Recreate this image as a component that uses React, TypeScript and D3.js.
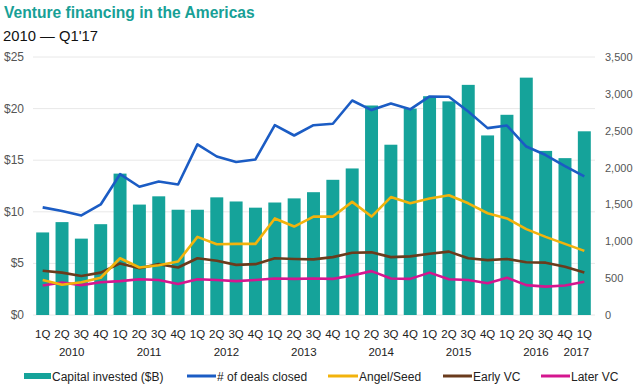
import React from 'react';
import * as d3 from 'd3';

const quarters = [
  '1Q', '2Q', '3Q', '4Q', '1Q', '2Q', '3Q', '4Q', '1Q', '2Q', '3Q', '4Q',
  '1Q', '2Q', '3Q', '4Q', '1Q', '2Q', '3Q', '4Q', '1Q', '2Q', '3Q', '4Q',
  '1Q', '2Q', '3Q', '4Q', '1Q',
];
const years = ['2010', '2011', '2012', '2013', '2014', '2015', '2016', '2017'];

const capital = [
  8.0, 9.0, 7.4, 8.8, 13.7, 10.7, 11.5, 10.2, 10.2, 11.4, 11.0, 10.4,
  10.9, 11.3, 11.9, 13.1, 14.2, 20.3, 16.5, 20.0, 21.2, 20.7, 22.3, 17.4,
  19.4, 23.0, 15.9, 15.2, 17.8,
];
const deals = [
  1460, 1410, 1350, 1500, 1910, 1740, 1810, 1770, 2315, 2150, 2075, 2110,
  2575, 2435, 2575, 2595, 2910, 2780, 2870, 2790, 2965, 2960, 2760, 2535,
  2570, 2285, 2170, 2020, 1880,
];
const angelSeed = [
  475, 410, 445, 505, 770, 645, 675, 725, 1060, 960, 965, 965,
  1310, 1200, 1335, 1335, 1535, 1335, 1600, 1515, 1580, 1625, 1515, 1380,
  1310, 1165, 1060, 965, 870,
];
const earlyVC = [
  600, 575, 530, 575, 700, 635, 690, 645, 770, 735, 680, 690,
  770, 760, 755, 785, 845, 850, 785, 795, 830, 860, 770, 745,
  760, 715, 710, 655, 575,
];
const laterVC = [
  400, 440, 405, 445, 460, 485, 475, 420, 485, 475, 460, 475,
  495, 490, 495, 490, 535, 595, 495, 490, 575, 485, 475, 430,
  505, 405, 385, 400, 450,
];

const leftTicks = [0, 5, 10, 15, 20, 25];
const rightTicks = [0, 500, 1000, 1500, 2000, 2500, 3000, 3500];

const TEAL = '#15a39a';
const lineSeries = [
  { name: '# of deals closed', values: deals, color: '#1b5cc4' },
  { name: 'Angel/Seed', values: angelSeed, color: '#f2b30c' },
  { name: 'Early VC', values: earlyVC, color: '#6a3b1c' },
  { name: 'Later VC', values: laterVC, color: '#d4168f' },
];

const font = '"Liberation Sans", Arial, sans-serif';

export default function App() {
  const width = 638;
  const height = 385;

  const x = d3
    .scaleBand<number>()
    .domain(d3.range(quarters.length))
    .range([33, 594])
    .paddingInner(0.33)
    .paddingOuter(0.165);
  const yL = d3.scaleLinear().domain([0, 25]).range([315, 57]);
  const yR = d3.scaleLinear().domain([0, 3500]).range([315, 57]);
  const cx = (i: number) => (x(i) as number) + x.bandwidth() / 2;

  const line = d3
    .line<number>()
    .x((_, i) => cx(i))
    .y((d) => yR(d));

  const legend = [
    { label: 'Capital invested ($B)', x: 24, w: 27, bar: true, color: TEAL },
    { label: '# of deals closed', x: 187, w: 29, bar: false, color: lineSeries[0].color },
    { label: 'Angel/Seed', x: 328, w: 30, bar: false, color: lineSeries[1].color },
    { label: 'Early VC', x: 443, w: 29, bar: false, color: lineSeries[2].color },
    { label: 'Later VC', x: 541, w: 29, bar: false, color: lineSeries[3].color },
  ];

  return (
    <svg
      width={width}
      height={height}
      style={{ position: 'absolute', left: 0, top: 0, background: '#fff' }}
      fontFamily={font}
    >
      <text x={4} y={18} fontSize={15.6} fontWeight="bold" fill="#17a096">
        Venture financing in the Americas
      </text>
      <text x={3} y={41} fontSize={14.8} fill="#111">
        2010 — Q1'17
      </text>

      {leftTicks.map((t) => (
        <g key={'l' + t}>
          <line x1={33} x2={595} y1={yL(t)} y2={yL(t)} stroke="#e8e8e8" strokeWidth={1} />
          <text x={24} y={yL(t) + 4} fontSize={12} fill="#555" textAnchor="end">
            ${t}
          </text>
        </g>
      ))}
      {rightTicks.map((t) => (
        <text key={'r' + t} x={605} y={yR(t) + 4} fontSize={11} fill="#555">
          {d3.format(',')(t)}
        </text>
      ))}

      {capital.map((v, i) => (
        <rect
          key={'b' + i}
          x={x(i)}
          y={yL(v)}
          width={x.bandwidth()}
          height={yL(0) - yL(v)}
          fill={TEAL}
        />
      ))}

      {lineSeries
        .slice()
        .reverse()
        .map((s) => (
          <path
            key={s.name}
            d={line(s.values) || ''}
            fill="none"
            stroke={s.color}
            strokeWidth={2.6}
            strokeLinejoin="round"
          />
        ))}

      {quarters.map((q, i) => (
        <text key={'q' + i} x={cx(i)} y={338} fontSize={11.5} fill="#222" textAnchor="middle">
          {q}
        </text>
      ))}
      {years.map((yr, k) => {
        const first = k * 4;
        const last = Math.min(first + 3, quarters.length - 1);
        const mid = (cx(first) + cx(last)) / 2;
        return (
          <text key={yr} x={k === 7 ? mid - 8 : mid} y={356} fontSize={11.5} fill="#222" textAnchor="middle">
            {yr}
          </text>
        );
      })}

      {legend.map((l) => (
        <g key={l.label}>
          {l.bar ? (
            <rect x={l.x} y={373} width={l.w} height={6} fill={l.color} />
          ) : (
            <line x1={l.x} x2={l.x + l.w} y1={376} y2={376} stroke={l.color} strokeWidth={3} />
          )}
          <text x={l.x + l.w + 1} y={381} fontSize={12} fill="#222">
            {l.label}
          </text>
        </g>
      ))}
    </svg>
  );
}
